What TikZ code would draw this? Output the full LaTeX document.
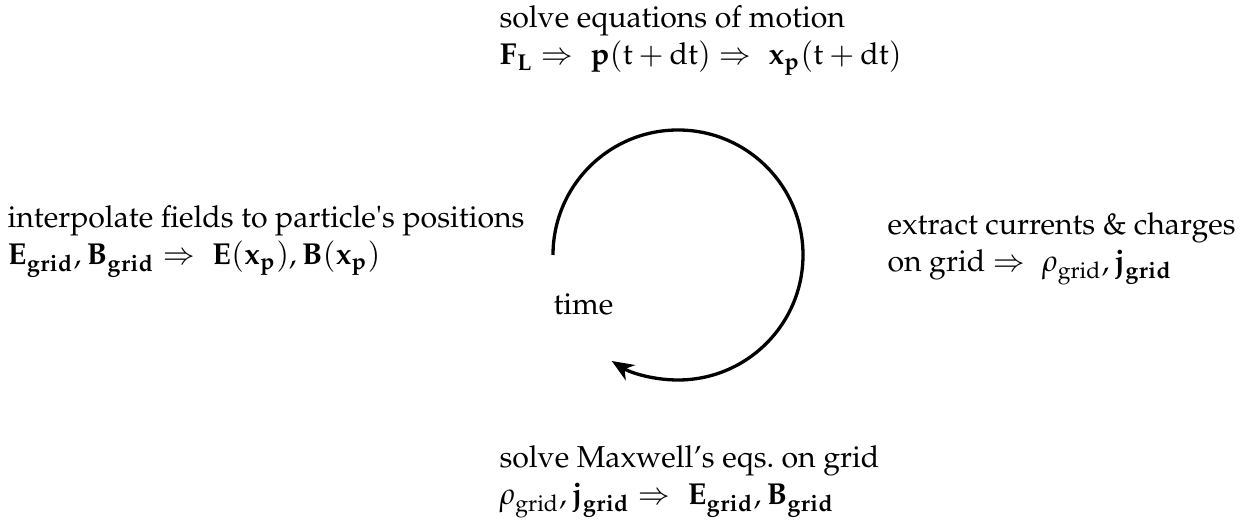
\documentclass[tikz,border=0pt]{standalone}
\usepackage[T1]{fontenc}
\usepackage{mathpazo}
\usetikzlibrary{arrows.meta}

\begin{document}
\begin{tikzpicture}[x=0.3636pt,y=0.3636pt,
		steplabel/.style={anchor=base west, align=left, inner sep=0pt, font=\fontsize{11}{13.6}\selectfont}]
		% zone de l'image (pixels de la figure de reference)
		\useasboundingbox (0,0) rectangle (1242,526);
		\pgfmathsetmacro{\rayon}{125}

		% cycle temporel
		\coordinate (O) at (678,271);
		\draw[line width=1.2pt, -{Stealth[length=8pt,width=6.5pt,inset=2.5pt]}]
			(O) ++(180:\rayon) arc[start angle=180, end angle=-122, radius=\rayon];
		\node[steplabel] (time) at (553,211) {time};

		% etapes du cycle (ancrage sur la ligne de base de la 2e ligne)
		\node[steplabel] (motion) at (499,461)
			{solve equations of motion\\
			$\mathbf{F}_{\mathbf{L}} \Rightarrow\; \mathbf{p}(\mathrm{t}+\mathrm{dt}) \Rightarrow\; \mathbf{x}_{\mathbf{p}}(\mathrm{t}+\mathrm{dt})$};
		\node[steplabel] (extract) at (887,254)
			{extract currents \& charges\\
			on grid $\Rightarrow\; \rho_{\mathrm{grid}}, \mathbf{j}_{\mathbf{grid}}$};
		\node[steplabel] (maxwell) at (499,21)
			{solve Maxwell's eqs.\ on grid\\
			$\rho_{\mathrm{grid}}, \mathbf{j}_{\mathbf{grid}} \Rightarrow\; \mathbf{E}_{\mathbf{grid}}, \mathbf{B}_{\mathbf{grid}}$};
		\node[steplabel] (interp) at (7,261)
			{interpolate fields to particle\textquotesingle s positions\\
			$\mathbf{E}_{\mathbf{grid}}, \mathbf{B}_{\mathbf{grid}} \Rightarrow\; \mathbf{E}(\mathbf{x}_{\mathbf{p}}), \mathbf{B}(\mathbf{x}_{\mathbf{p}})$};
	\end{tikzpicture}
\end{document}
